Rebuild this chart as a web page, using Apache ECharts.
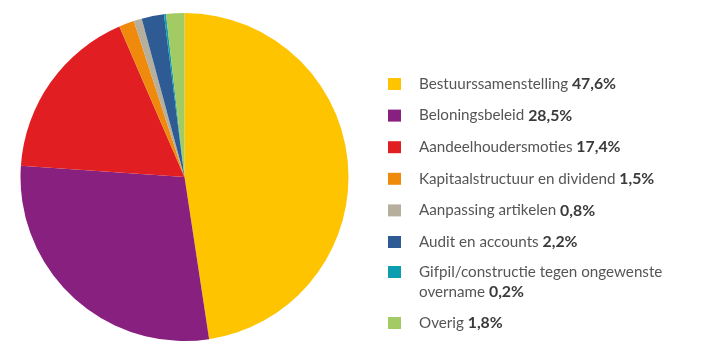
<!DOCTYPE html>
<html><head><meta charset="utf-8">
<script src="https://cdn.jsdelivr.net/npm/echarts@6/dist/echarts.min.js"></script>
<style>html,body{margin:0;padding:0;background:#fff}#c{width:709px;height:355px}</style>
</head><body><div id="c"></div>
<script>
var categories = ['Bestuurssamenstelling','Beloningsbeleid','Aandeelhoudersmoties','Kapitaalstructuur en dividend','Aanpassing artikelen','Audit en accounts','Gifpil/constructie tegen ongewenste overname','Overig'];
var values = [47.6, 28.5, 17.4, 1.5, 0.8, 2.2, 0.2, 1.8];
var colors = ['#FFC400','#87207E','#E11F22','#EF8A0D','#B7AF9D','#2E5B93','#0C9DAF','#A2CB63'];

var chart = echarts.init(document.getElementById('c'));
function fmtVal(v){ return v.toFixed(1).replace('.', ','); }
function formatter(name){
  var i = categories.indexOf(name);
  var label = name;
  if (i === 6) label = 'Gifpil/constructie tegen ongewenste\novername';
  return label + ' {v|' + fmtVal(values[i]) + '%}';
}
var textStyle = {
  fontFamily: 'Lato', fontSize: 15.2, color: '#555555', lineHeight: 20,
  rich: { v: { fontFamily: 'Lato', fontSize: 15.8, fontWeight: 'bold', color: '#3a3a3a', lineHeight: 20 } }
};
function legend(items, top, extra){
  var l = {
    orient: 'vertical', left: 388, top: top, padding: 0,
    itemWidth: 13, itemHeight: 12, itemGap: 11.6, icon: 'rect',
    data: items, formatter: formatter, selectedMode: false,
    textStyle: JSON.parse(JSON.stringify(textStyle))
  };
  l.textStyle.padding = [0, 0, 0, 13];
  if (extra) { l.textStyle.padding = [20, 0, 0, 13]; }
  return l;
}
chart.setOption({
  animation: false,
  color: colors,
  legend: [
    legend(categories.slice(0, 6), 74),
    legend([categories[6]], 242, true),
    legend([categories[7]], 313)
  ],
  series: [{
    type: 'pie',
    center: [184.5, 177],
    radius: [0, 164],
    startAngle: 90,
    clockwise: true,
    label: { show: false },
    labelLine: { show: false },
    silent: true,
    itemStyle: { borderWidth: 0 },
    data: categories.map(function(c, i){ return { name: c, value: values[i] }; })
  }]
});
</script></body></html>
